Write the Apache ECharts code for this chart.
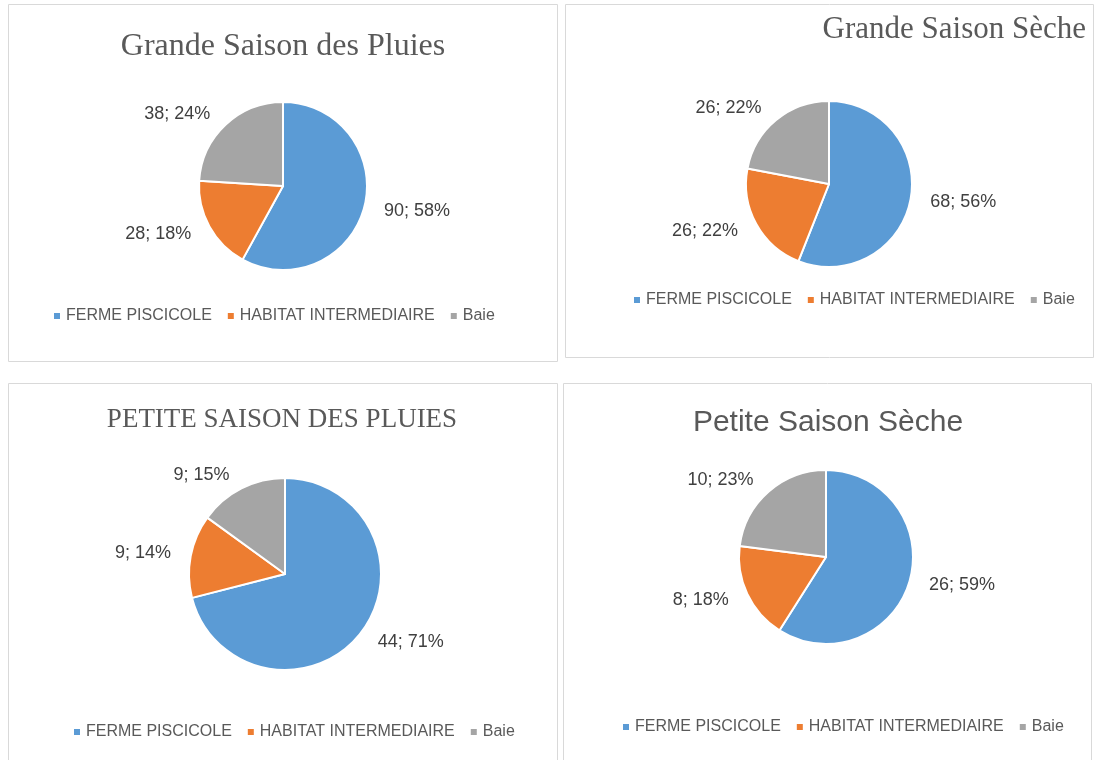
<!DOCTYPE html>
<html>
<head>
<meta charset="utf-8">
<title>Saisons</title>
<script src="https://cdn.jsdelivr.net/npm/echarts@6/dist/echarts.min.js"></script>
<style>
  html, body { margin: 0; padding: 0; background: #fff; }
  #chart { width: 1095px; height: 760px; }
</style>
</head>
<body>
<div id="chart"></div>
<script>
  // categories (same for the four pies)
  const categories = ['FERME PISCICOLE', 'HABITAT INTERMEDIAIRE', 'Baie'];
  const colors = ['#5B9BD5', '#ED7D31', '#A5A5A5'];

  // Grande Saison des Pluies
  const gspCounts = [90, 28, 38];
  const gspPct = [58, 18, 24];
  // Grande Saison Sèche
  const gssCounts = [68, 26, 26];
  const gssPct = [56, 22, 22];
  // Petite Saison des Pluies
  const pspCounts = [44, 9, 9];
  const pspPct = [71, 14, 15];
  // Petite Saison Sèche
  const pssCounts = [26, 8, 10];
  const pssPct = [59, 18, 23];

  const sans = "'Liberation Sans', Arial, sans-serif";
  const serif = "'Liberation Serif', 'Times New Roman', serif";

  function pieSeries(name, counts, pct, center, radius) {
    return {
      name: name,
      type: 'pie',
      center: center,
      radius: radius,
      startAngle: 90,
      clockwise: true,
      avoidLabelOverlap: false,
      itemStyle: { borderColor: '#fff', borderWidth: 2 },
      label: {
        show: true,
        position: 'outside',
        color: '#404040',
        fontFamily: sans,
        fontSize: 18,
        formatter: function (p) {
          return counts[p.dataIndex] + '; ' + pct[p.dataIndex] + '%';
        }
      },
      labelLine: { show: false, length: 15, length2: 0 },
      emphasis: { disabled: true },
      data: categories.map(function (c, i) {
        return { name: c, value: pct[i] };
      })
    };
  }

  function legend(left, top) {
    return {
      left: left,
      top: top,
      data: categories,
      icon: 'rect',
      itemWidth: 8,
      itemHeight: 8,
      itemGap: 14,
      selectedMode: false,
      textStyle: { color: '#595959', fontFamily: sans, fontSize: 16 }
    };
  }

  const dom = document.getElementById('chart');
  const myChart = echarts.init(dom);
  const option = {
    animation: false,
    color: colors,
    title: [
      {
        text: 'Grande Saison des Pluies', left: 278, top: 26, textAlign: 'center',
        textStyle: { fontFamily: serif, fontSize: 32, fontWeight: 'normal', color: '#595959' }
      },
      {
        text: 'Grande Saison Sèche', right: 4, top: 9,
        textStyle: { fontFamily: serif, fontSize: 31, fontWeight: 'normal', color: '#595959' }
      },
      {
        text: 'PETITE SAISON DES PLUIES', left: 277, top: 401, textAlign: 'center',
        textStyle: { fontFamily: serif, fontSize: 27, fontWeight: 'normal', color: '#595959' }
      },
      {
        text: 'Petite Saison Sèche', left: 823, top: 403, textAlign: 'center',
        textStyle: { fontFamily: sans, fontSize: 30, fontWeight: 'normal', color: '#595959' }
      }
    ],
    legend: [
      legend(47, 303),
      legend(627, 287),
      legend(67, 719),
      legend(616, 714)
    ],
    graphic: [
      { type: 'rect', shape: { x: 8.5, y: 4.5, width: 549, height: 357 }, style: { fill: 'none', stroke: '#D9D9D9', lineWidth: 1 } },
      { type: 'rect', shape: { x: 565.5, y: 4.5, width: 528, height: 353 }, style: { fill: 'none', stroke: '#D9D9D9', lineWidth: 1 } },
      { type: 'rect', shape: { x: 8.5, y: 383.5, width: 549, height: 390 }, style: { fill: 'none', stroke: '#D9D9D9', lineWidth: 1 } },
      { type: 'rect', shape: { x: 563.5, y: 383.5, width: 528, height: 390 }, style: { fill: 'none', stroke: '#D9D9D9', lineWidth: 1 } }
    ],
    series: [
      pieSeries('Grande Saison des Pluies', gspCounts, gspPct, [283, 186], 84),
      pieSeries('Grande Saison Sèche', gssCounts, gssPct, [829, 184], 83),
      pieSeries('Petite Saison des Pluies', pspCounts, pspPct, [285, 574], 96),
      pieSeries('Petite Saison Sèche', pssCounts, pssPct, [826, 557], 87)
    ]
  };
  myChart.setOption(option);
</script>
</body>
</html>
